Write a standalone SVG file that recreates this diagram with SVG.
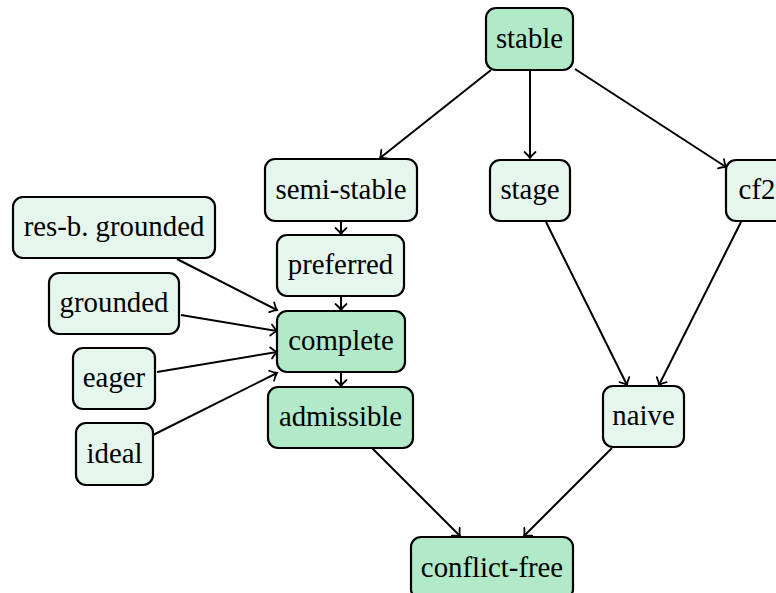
<svg xmlns="http://www.w3.org/2000/svg" width="776" height="593" viewBox="0 0 776 593">
<style>
.n rect{stroke:#000;stroke-width:2.2}
.d rect{fill:#b2e9c9}
.l rect{fill:#e5f6ec}
.n text{font-size:28.8px;fill:#000;text-anchor:middle}
#edges line{stroke:#000;stroke-width:2;fill:none;marker-end:url(#to)}
</style>
<defs>
<marker id="to" markerUnits="userSpaceOnUse" viewBox="-9 -7 11 14" markerWidth="11" markerHeight="14" refX="0" refY="0" orient="auto" overflow="visible">
<path d="M-6,-5.5 Q-2.5,-1.5 0,0 Q-2.5,1.5 -6,5.5" fill="none" stroke="#000" stroke-width="1.8" stroke-linecap="round"/>
</marker>
</defs>
<rect width="776" height="593" fill="#fff"/>
<g id="edges">
<line x1="491" y1="70" x2="380" y2="158"/>
<line x1="530" y1="70" x2="530" y2="158"/>
<line x1="575" y1="69" x2="726" y2="167"/>
<line x1="341" y1="221" x2="341" y2="234"/>
<line x1="341" y1="296" x2="341" y2="310"/>
<line x1="341" y1="372" x2="341" y2="386"/>
<line x1="177" y1="259" x2="277" y2="310"/>
<line x1="181" y1="315" x2="277" y2="331"/>
<line x1="157" y1="372" x2="277" y2="352"/>
<line x1="153" y1="435" x2="277" y2="373"/>
<line x1="546" y1="222" x2="627" y2="385"/>
<line x1="741" y1="222" x2="659" y2="385"/>
<line x1="372" y1="448" x2="460" y2="536"/>
<line x1="612" y1="448" x2="524" y2="536"/>
</g>
<g font-family="'Liberation Serif', 'DejaVu Serif', serif">
<g id="stable" class="n d"><rect x="486" y="8" width="87" height="62" rx="10"/><text x="529.5" y="48">stable</text></g>
<g id="semi-stable" class="n l"><rect x="265" y="159" width="152" height="62" rx="10"/><text x="341" y="199">semi-stable</text></g>
<g id="stage" class="n l"><rect x="490" y="160" width="80" height="61" rx="10"/><text x="530" y="199">stage</text></g>
<g id="cf2" class="n l"><rect x="726" y="160" width="62" height="61" rx="10"/><text x="757" y="199">cf2</text></g>
<g id="res-b-grounded" class="n l"><rect x="13" y="197" width="202" height="61" rx="10"/><text x="114" y="236">res-b. grounded</text></g>
<g id="preferred" class="n l"><rect x="277" y="235" width="127" height="61" rx="10"/><text x="340.5" y="274">preferred</text></g>
<g id="grounded" class="n l"><rect x="49" y="273" width="130" height="61" rx="10"/><text x="114" y="312">grounded</text></g>
<g id="complete" class="n d"><rect x="277" y="311" width="128" height="61" rx="10"/><text x="341" y="350">complete</text></g>
<g id="eager" class="n l"><rect x="73" y="348" width="82" height="61" rx="10"/><text x="114" y="387">eager</text></g>
<g id="admissible" class="n d"><rect x="268" y="387" width="145" height="61" rx="10"/><text x="340.5" y="426">admissible</text></g>
<g id="naive" class="n l"><rect x="603" y="386" width="81" height="61" rx="10"/><text x="643.5" y="425">naive</text></g>
<g id="ideal" class="n l"><rect x="76" y="423" width="77" height="62" rx="10"/><text x="114.5" y="463">ideal</text></g>
<g id="conflict-free" class="n d"><rect x="411" y="537" width="162" height="62" rx="10"/><text x="492" y="577">conflict-free</text></g>
</g>
</svg>
